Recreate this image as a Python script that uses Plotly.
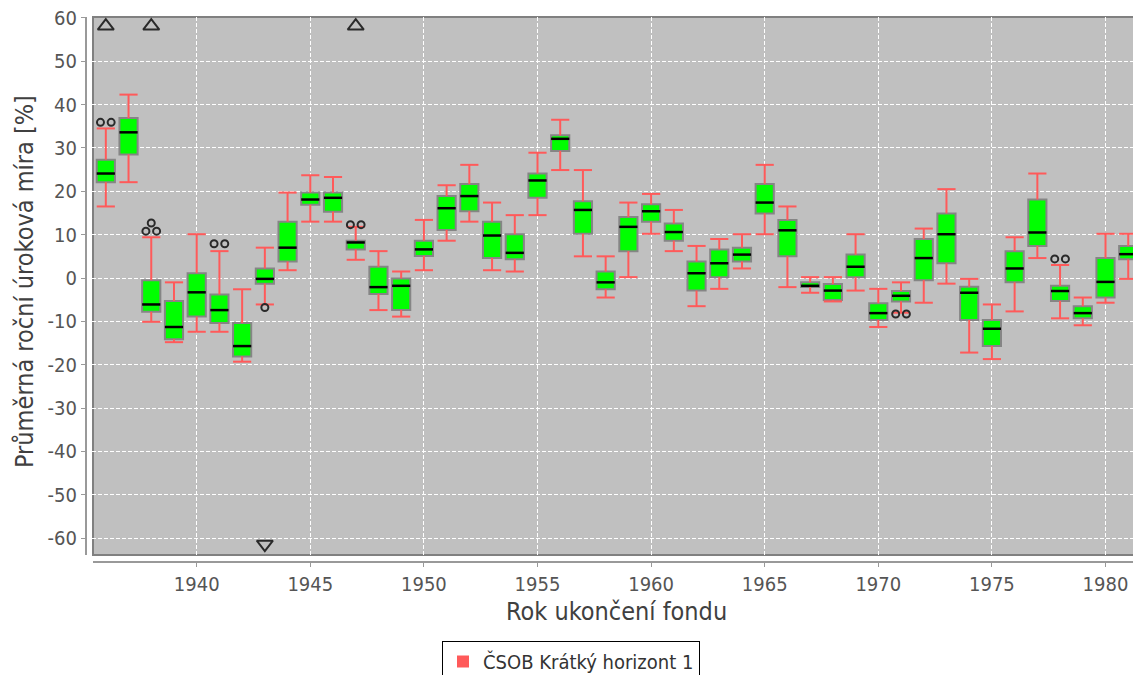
import plotly.graph_objects as go

# Year of fund maturity
years = list(range(1936, 1982))

# Box statistics (average annual rate, %)
whisker_low = [16.5, 22.1, -10.1, -14.8, -12.4, -12.4, -19.3, -6.1, 1.8, 13.0,
               13.0, 4.2, -7.4, -8.9, 1.8, 8.6, 13.0, 1.8, 1.5, 14.5,
               24.9, 5.0, -4.5, 0.2, 10.2, 6.2, -6.5, -2.5, 2.2, 10.1,
               -2.1, -3.4, -5.4, -2.9, -11.3, -8.0, -5.7, -1.3, -17.2, -18.7,
               -7.7, 4.6, -9.3, -10.9, -5.7, -0.2]
q1 = [22.1, 28.5, -7.8, -14.1, -8.9, -10.4, -18.1, -1.3, 3.8, 16.9,
      15.3, 6.6, -3.7, -7.4, 5.1, 11.1, 15.4, 4.6, 4.3, 18.5,
      29.3, 10.2, -2.6, 6.2, 13.0, 8.6, -2.9, 0.2, 3.8, 14.9,
      5.0, -2.1, -5.1, 0.2, -9.7, -5.4, -0.5, 3.4, -9.7, -15.7,
      -1.0, 7.4, -5.3, -9.3, -4.5, 4.3]
median = [24.1, 33.6, -6.1, -11.3, -3.3, -7.4, -15.7, -0.2, 7.0, 18.1,
          18.5, 8.2, -2.1, -1.8, 6.6, 16.1, 18.9, 9.8, 5.8, 22.5,
          32.1, 15.7, -1.0, 11.8, 15.4, 10.6, 1.1, 3.4, 5.4, 17.4,
          11.0, -1.8, -2.9, 2.6, -8.1, -4.1, 4.6, 10.1, -3.4, -11.7,
          2.2, 10.5, -3.0, -8.1, -0.9, 5.5]
q3 = [27.3, 36.9, -0.5, -5.3, 1.1, -3.8, -10.4, 2.2, 13.0, 19.7,
      19.7, 8.6, 2.6, -0.1, 8.6, 18.9, 21.7, 13.0, 10.1, 24.1,
      32.9, 17.7, 1.5, 14.1, 17.0, 12.6, 3.8, 6.6, 7.0, 21.7,
      13.4, -1.0, -1.4, 5.4, -5.8, -3.0, 9.0, 14.9, -2.0, -9.7,
      6.2, 18.1, -1.8, -6.5, 4.6, 7.4]
whisker_high = [34.5, 42.3, 9.4, -1.0, 10.1, 6.2, -2.6, 7.0, 19.7, 23.7,
                23.3, 11.8, 6.2, 1.5, 13.4, 21.4, 26.1, 17.4, 14.5, 28.9,
                36.5, 24.9, 5.0, 17.4, 19.4, 15.7, 7.4, 9.0, 10.1, 26.1,
                16.5, 0.2, 0.2, 10.1, -2.5, -1.0, 11.4, 20.5, -0.2, -6.1,
                9.4, 24.1, 3.0, -4.5, 10.2, 10.2]

# Outliers within the visible range
outlier_years = [1936, 1936, 1938, 1938, 1938, 1941, 1941, 1943, 1947, 1947,
                 1971, 1971, 1978, 1978]
outlier_values = [35.9, 35.9, 10.8, 10.8, 12.7, 7.9, 7.9, -6.8, 12.3, 12.3,
                  -8.3, -8.3, 4.4, 4.4]

# Years with values beyond the axis range
far_high_years = [1936, 1938, 1947]
far_low_years = [1943]

# Axis ticks and their labels
x_ticks = [1940, 1945, 1950, 1955, 1960, 1965, 1970, 1975, 1980]
x_tick_labels = ["1940", "1945", "1950", "1955", "1960", "1965", "1970", "1975", "1980"]
y_ticks = [-60, -50, -40, -30, -20, -10, 0, 10, 20, 30, 40, 50, 60]
y_tick_labels = ["-60", "-50", "-40", "-30", "-20", "-10", "0",
                 "10", "20", "30", "40", "50", "60"]
X_RANGE = [1935.128, 1981.21]
Y_RANGE = [-65.5, 60.2]

FONT = "DejaVu Sans Condensed, Liberation Sans, Arial, sans-serif"
GREEN = "#00FF00"
RED = "#FF5A5A"
BOX_EDGE = "#858585"
MARK = "#2a2a2a"
HALF = 0.4

# page geometry (px)
W, H = 1133, 675
ML, MT, MB = 86, 17, 113
PW, PH = W - ML, H - MT - MB


def px_x(p):
    return (p - ML) / PW


def px_y(p):
    return (H - MB - p) / PH


fig = go.Figure()

# whiskers and caps
wx, wy = [], []
for yr, lo, a, b, hi in zip(years, whisker_low, q1, q3, whisker_high):
    wx += [yr, yr, None, yr, yr, None,
           yr - HALF, yr + HALF, None, yr - HALF, yr + HALF, None]
    wy += [b, hi, None, a, lo, None, hi, hi, None, lo, lo, None]
fig.add_trace(go.Scatter(x=wx, y=wy, mode="lines",
                         line=dict(color=RED, width=2),
                         showlegend=False, hoverinfo="skip"))

# boxes (q1..q3)
fig.add_trace(go.Bar(x=years, y=[b - a for a, b in zip(q1, q3)], base=q1,
                     width=2 * HALF,
                     marker=dict(color=GREEN, line=dict(color=BOX_EDGE, width=2)),
                     showlegend=False, hoverinfo="skip"))

# medians
mx, my = [], []
for yr, m in zip(years, median):
    mx += [yr - HALF, yr + HALF, None]
    my += [m, m, None]
fig.add_trace(go.Scatter(x=mx, y=my, mode="lines",
                         line=dict(color="black", width=2.5),
                         showlegend=False, hoverinfo="skip"))

# outliers: equal values in one year are placed side by side
groups = {}
for yr, v in zip(outlier_years, outlier_values):
    groups.setdefault((yr, v), []).append(v)
ox, oy = [], []
for (yr, v), vals in groups.items():
    n = len(vals)
    for i in range(n):
        ox.append(yr + (i - (n - 1) / 2) * 0.47)
        oy.append(v)
fig.add_trace(go.Scatter(x=ox, y=oy, mode="markers",
                         marker=dict(symbol="circle-open", size=7, color=MARK,
                                     line=dict(width=2)),
                         showlegend=False, hoverinfo="skip", cliponaxis=False))

# far-out indicators at the edges of the data area
fig.add_trace(go.Scatter(x=far_high_years, y=[Y_RANGE[1] - 2.1] * len(far_high_years),
                         mode="markers",
                         marker=dict(symbol="triangle-up-open", size=14, color=MARK,
                                     line=dict(width=2)),
                         showlegend=False, hoverinfo="skip", cliponaxis=False))
fig.add_trace(go.Scatter(x=far_low_years, y=[Y_RANGE[0] + 4.1] * len(far_low_years),
                         mode="markers",
                         marker=dict(symbol="triangle-down-open", size=14, color=MARK,
                                     line=dict(width=2)),
                         showlegend=False, hoverinfo="skip", cliponaxis=False))

# legend entry
fig.add_trace(go.Scatter(x=[None], y=[None], mode="markers",
                         name="ČSOB Krátký horizont 1",
                         marker=dict(symbol="square", size=12, color=RED)))

x0p, y0p = px_x(93), px_y(555)
shapes = [
    # data area background
    dict(type="rect", xref="paper", yref="paper", x0=x0p, x1=1.02, y0=y0p, y1=1,
         fillcolor="#C0C0C0", line=dict(width=0), layer="below"),
    # gaps between data area and axes
    dict(type="rect", xref="paper", yref="paper", x0=-0.001, x1=x0p, y0=-0.01, y1=1.01,
         fillcolor="white", line=dict(width=0), layer="between"),
    dict(type="rect", xref="paper", yref="paper", x0=-0.001, x1=1.02, y0=-0.01, y1=y0p,
         fillcolor="white", line=dict(width=0), layer="between"),
    # data area outline
    dict(type="rect", xref="paper", yref="paper", x0=x0p, x1=1.02, y0=y0p, y1=1,
         fillcolor="rgba(0,0,0,0)", line=dict(color="#808080", width=2), layer="between"),
    # axis lines
    dict(type="line", xref="paper", yref="paper", x0=x0p, x1=1.02, y0=0, y1=0,
         line=dict(color="#999999", width=2)),
    dict(type="line", xref="paper", yref="paper", x0=0, x1=0, y0=y0p, y1=1,
         line=dict(color="#999999", width=2)),
]

annotations = [
    dict(text="Rok ukončení fondu", xref="paper", yref="paper",
         x=px_x(616), y=px_y(611), xanchor="center", yanchor="middle",
         showarrow=False, font=dict(family=FONT, size=25, color="#404040")),
    dict(text="Průměrná roční úroková míra [%]", xref="paper", yref="paper",
         x=px_x(24), y=px_y(282), xanchor="center", yanchor="middle", textangle=-90,
         showarrow=False, font=dict(family=FONT, size=25, color="#404040")),
]

fig.update_layout(
    width=W, height=H,
    margin=dict(l=ML, r=0, t=MT, b=MB),
    paper_bgcolor="white", plot_bgcolor="white",
    font=dict(family=FONT, size=20, color="#444444"),
    barmode="overlay",
    shapes=shapes, annotations=annotations,
    legend=dict(xref="container", yref="container", x=442 / W, y=1 - 641 / H,
                xanchor="left", yanchor="top", orientation="h",
                bgcolor="white", bordercolor="black", borderwidth=1,
                font=dict(family=FONT, size=20, color="#333333"),
                itemwidth=30),
    xaxis=dict(range=X_RANGE, tickvals=x_ticks, ticktext=x_tick_labels,
               ticks="outside", ticklen=4,
               tickcolor="#999999", showline=False, zeroline=False,
               showgrid=True, gridcolor="white", griddash="4px,2px", gridwidth=1,
               tickfont=dict(family=FONT, size=20, color="#555555")),
    yaxis=dict(range=Y_RANGE, tickvals=y_ticks, ticktext=y_tick_labels,
               ticks="outside", ticklen=4,
               tickcolor="#999999", showline=False, zeroline=False,
               showgrid=True, gridcolor="white", griddash="4px,2px", gridwidth=1,
               tickfont=dict(family=FONT, size=20, color="#555555")),
)

fig.write_html("out.html")
